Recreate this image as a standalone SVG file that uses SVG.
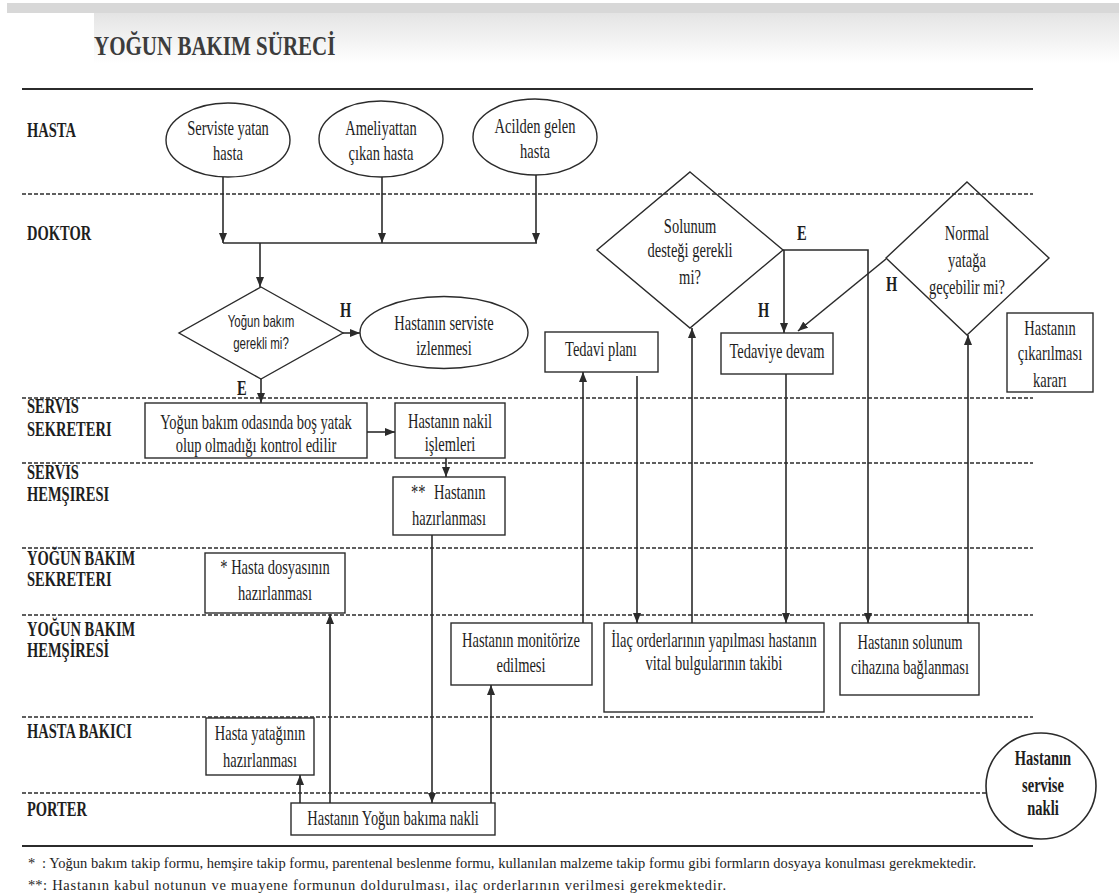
<svg xmlns="http://www.w3.org/2000/svg" width="1119" height="896" viewBox="0 0 1119 896">
  <defs>
    <marker id="ah" viewBox="0 0 10 8" refX="10" refY="4" markerWidth="10" markerHeight="8" markerUnits="userSpaceOnUse" orient="auto">
      <path d="M0,0 L10,4 L0,8 Z" fill="#2b2b2b"/>
    </marker>
    <linearGradient id="haze" x1="0" y1="0" x2="0" y2="1">
      <stop offset="0" stop-color="#e4e4e4"/>
      <stop offset="1" stop-color="#ffffff"/>
    </linearGradient>
    <style>
      .lane{fill:none;stroke:#2b2b2b;stroke-width:1.7;stroke-dasharray:4 2}
      .rule{fill:none;stroke:#2b2b2b;stroke-width:2.2}
      .box{fill:#fff;stroke:#2b2b2b;stroke-width:1.4}
      .dia{fill:none;stroke:#2b2b2b;stroke-width:1.4}
      .ln{fill:none;stroke:#2b2b2b;stroke-width:1.6}
      .arr{marker-end:url(#ah)}
      text{fill:#1e1e1e}
      .tx{font-family:"Liberation Serif","Times New Roman",serif;font-size:14.5px;text-anchor:middle}
      .sx{font-family:"Liberation Sans",Arial,sans-serif;font-size:11.5px;text-anchor:middle}
      .lb{font-family:"Liberation Serif","Times New Roman",serif;font-weight:bold;font-size:14.5px}
      .ft{font-family:"Liberation Serif","Times New Roman",serif;font-size:14.5px}
      .st{transform-box:fill-box;transform-origin:center;transform:scaleY(1.4)}
      .sl{transform-box:fill-box;transform-origin:center;transform:scaleY(1.45)}
    </style>
  </defs>

  <rect width="1119" height="896" fill="#fff"/>
  <!-- scanner band along the top edge -->
  <rect x="7" y="3" width="1112" height="10" fill="#d8d8d8"/>
  <rect x="94" y="13" width="1025" height="50" fill="url(#haze)"/>

  <!-- title -->
  <text x="94" y="53" class="lb" style="font-size:21px;fill:#3c3c3c;transform-box:fill-box;transform-origin:center;transform:scaleY(1.3)">YOĞUN BAKIM SÜRECİ</text>

  <!-- swimlane rules -->
  <g id="lanes">
    <line class="rule" x1="22" y1="89" x2="1033" y2="89"/>
    <line class="lane" x1="22" y1="194" x2="1033" y2="194"/>
    <line class="lane" x1="22" y1="398" x2="1033" y2="398"/>
    <line class="lane" x1="22" y1="463" x2="1033" y2="463"/>
    <line class="lane" x1="22" y1="548" x2="1033" y2="548"/>
    <line class="lane" x1="22" y1="615" x2="1033" y2="615"/>
    <line class="lane" x1="22" y1="717" x2="1033" y2="717"/>
    <line class="lane" x1="22" y1="793" x2="986" y2="793"/>
    <line class="rule" x1="22" y1="846" x2="1033" y2="846"/>
  </g>

  <!-- lane labels -->
  <g id="lane-labels">
    <text x="27" y="135.3" class="lb sl">HASTA</text>
    <text x="27" y="238.3" class="lb sl">DOKTOR</text>
    <text x="27" y="411.3" class="lb sl">SERVIS</text>
    <text x="27" y="434.3" class="lb sl">SEKRETERI</text>
    <text x="27" y="477.3" class="lb sl">SERVIS</text>
    <text x="27" y="499.3" class="lb sl">HEMŞIRESI</text>
    <text x="27" y="562.3" class="lb sl">YOĞUN BAKIM</text>
    <text x="27" y="584.3" class="lb sl">SEKRETERI</text>
    <text x="27" y="633.3" class="lb sl">YOĞUN BAKIM</text>
    <text x="27" y="654.8" class="lb sl">HEMŞİRESİ</text>
    <text x="27" y="736.3" class="lb sl">HASTA BAKICI</text>
    <text x="27" y="813.8" class="lb sl">PORTER</text>
  </g>

  <!-- connectors -->
  <g id="connectors">
    <path class="ln arr" d="M223,177 V243"/>
    <path class="ln arr" d="M382,177 V243"/>
    <path class="ln arr" d="M536,175 V243"/>
    <path class="ln" d="M223,243 H537"/>
    <path class="ln arr" d="M260,243 V287"/>
    <path class="ln arr" d="M343,333 H360"/>
    <path class="ln arr" d="M261,379 V403"/>
    <path class="ln arr" d="M367,432 H395"/>
    <path class="ln arr" d="M446,458 V477"/>
    <path class="ln arr" d="M432,535 V803"/>
    <path class="ln arr" d="M330,803 V614"/>
    <path class="ln arr" d="M300,803 V775"/>
    <path class="ln arr" d="M491,803 V685"/>
    <path class="ln arr" d="M583,623 V372"/>
    <path class="ln arr" d="M637,376 V623"/>
    <path class="ln arr" d="M692,623 V328"/>
    <path class="ln arr" d="M783,250 H868 V623"/>
    <path class="ln arr" d="M784,250 V333"/>
    <path class="ln arr" d="M786,374 V623"/>
    <path class="ln arr" d="M886,259 L798,331"/>
    <path class="ln arr" d="M968,623 V335"/>
  </g>

  <!-- edge labels -->
  <g id="edge-labels">
    <text x="340" y="314.8" class="lb sl">H</text>
    <text x="237" y="392.8" class="lb sl">E</text>
    <text x="797" y="237.8" class="lb sl">E</text>
    <text x="758" y="314.8" class="lb sl">H</text>
    <text x="886" y="288.8" class="lb sl">H</text>
  </g>

  <g id="serviste-yatan">
    <ellipse class="box" cx="228" cy="140" rx="62" ry="37"/>
    <text x="228" y="132.8" class="tx st">Serviste yatan</text>
    <text x="228" y="157.8" class="tx st">hasta</text>
  </g>
  <g id="ameliyattan">
    <ellipse class="box" cx="381" cy="139" rx="62" ry="38"/>
    <text x="381" y="132.8" class="tx st">Ameliyattan</text>
    <text x="381" y="157.8" class="tx st">çıkan hasta</text>
  </g>
  <g id="acilden">
    <ellipse class="box" cx="535" cy="137" rx="62" ry="38"/>
    <text x="535" y="130.8" class="tx st">Acilden gelen</text>
    <text x="535" y="155.8" class="tx st">hasta</text>
  </g>

  <g id="yogun-bakim-gerekli">
    <polygon class="dia" points="261,287 343,333 261,379 179,333"/>
    <text x="261" y="325" class="sx st">Yoğun bakım</text>
    <text x="261" y="347" class="sx st">gerekli mi?</text>
  </g>
  <g id="serviste-izlenmesi">
    <ellipse class="box" cx="444" cy="332.5" rx="84" ry="36"/>
    <text x="444" y="327.8" class="tx st">Hastanın serviste</text>
    <text x="444" y="352.8" class="tx st">izlenmesi</text>
  </g>

  <g id="bos-yatak-kontrol">
    <rect class="box" x="145" y="403" width="222" height="55"/>
    <text x="256" y="426.8" class="tx st">Yoğun bakım odasında boş yatak</text>
    <text x="256" y="449.8" class="tx st">olup olmadığı kontrol edilir</text>
  </g>
  <g id="nakil-islemleri">
    <rect class="box" x="395" y="403" width="110" height="55"/>
    <text x="450" y="425.8" class="tx st">Hastanın nakil</text>
    <text x="450" y="448.8" class="tx st">işlemleri</text>
  </g>
  <g id="hasta-hazirlanmasi">
    <rect class="box" x="393" y="477" width="112" height="58"/>
    <text x="411" y="496.8" class="tx st" style="text-anchor:start">**<tspan x="434">Hastanın</tspan></text>
    <text x="449" y="522.8" class="tx st">hazırlanması</text>
  </g>
  <g id="dosya-hazirlanmasi">
    <rect class="box" x="205" y="553" width="140" height="60"/>
    <text x="275" y="571.8" class="tx st">* Hasta dosyasının</text>
    <text x="275" y="597.8" class="tx st">hazırlanması</text>
  </g>
  <g id="monitorize">
    <rect class="box" x="451" y="623" width="141" height="62"/>
    <text x="521" y="644.8" class="tx st">Hastanın monitörize</text>
    <text x="521" y="669.8" class="tx st">edilmesi</text>
  </g>
  <g id="tedavi-plani">
    <rect class="box" x="545" y="332" width="113" height="40"/>
    <text x="601" y="353.8" class="tx st">Tedavi planı</text>
  </g>
  <g id="ilac-orderlari">
    <rect class="box" x="604" y="623" width="220" height="89"/>
    <text x="714" y="644.8" class="tx st">İlaç orderlarının yapılması hastanın</text>
    <text x="714" y="667.8" class="tx st">vital bulgularının takibi</text>
  </g>
  <g id="solunum-destegi">
    <polygon class="dia" points="690,172 783,250 690,328 597,250"/>
    <text x="690" y="230.8" class="tx st">Solunum</text>
    <text x="690" y="254.8" class="tx st">desteği gerekli</text>
    <text x="690" y="281.8" class="tx st">mi?</text>
  </g>
  <g id="tedaviye-devam">
    <rect class="box" x="721" y="333" width="112" height="41"/>
    <text x="777" y="355.8" class="tx st">Tedaviye devam</text>
  </g>
  <g id="normal-yatak">
    <polygon class="dia" points="967,182 1049,258 967,335 886,258"/>
    <text x="967" y="237.8" class="tx st">Normal</text>
    <text x="967" y="264.8" class="tx st">yatağa</text>
    <text x="967" y="291.8" class="tx st">geçebilir mi?</text>
  </g>
  <g id="solunum-cihazi">
    <rect class="box" x="840" y="623" width="139" height="72"/>
    <text x="910" y="646.8" class="tx st">Hastanın solunum</text>
    <text x="910" y="671.8" class="tx st">cihazına bağlanması</text>
  </g>
  <g id="cikarilma-karari">
    <rect class="box" x="1007" y="313" width="86" height="79"/>
    <text x="1050" y="332.8" class="tx st">Hastanın</text>
    <text x="1050" y="357.8" class="tx st">çıkarılması</text>
    <text x="1050" y="384.8" class="tx st">kararı</text>
  </g>
  <g id="yatak-hazirlanmasi">
    <rect class="box" x="206" y="718" width="108" height="57"/>
    <text x="260" y="737.8" class="tx st">Hasta yatağının</text>
    <text x="260" y="764.8" class="tx st">hazırlanması</text>
  </g>
  <g id="yogun-bakima-nakil">
    <rect class="box" x="291" y="803" width="204" height="32"/>
    <text x="393" y="822.8" class="tx st">Hastanın Yoğun bakıma nakli</text>
  </g>
  <g id="servise-nakil">
    <ellipse class="box" cx="1041" cy="786" rx="55" ry="53" style="stroke-width:1.6"/>
    <text x="1043" y="762.8" class="lb sl" style="text-anchor:middle">Hastanın</text>
    <text x="1043" y="789.8" class="lb sl" style="text-anchor:middle">servise</text>
    <text x="1043" y="812.8" class="lb sl" style="text-anchor:middle">nakli</text>
  </g>

  <!-- footnotes -->
  <g id="footnotes">
    <text x="28" y="868" class="ft">*</text>
    <text x="42" y="868" class="ft" textLength="934">: Yoğun bakım takip formu, hemşire takip formu, parentenal beslenme formu, kullanılan malzeme takip formu gibi formların dosyaya konulması gerekmektedir.</text>
    <text x="28" y="890" class="ft">**</text>
    <text x="43" y="890" class="ft" textLength="683">: Hastanın kabul notunun ve muayene formunun doldurulması, ilaç orderlarının verilmesi gerekmektedir.</text>
  </g>
</svg>
